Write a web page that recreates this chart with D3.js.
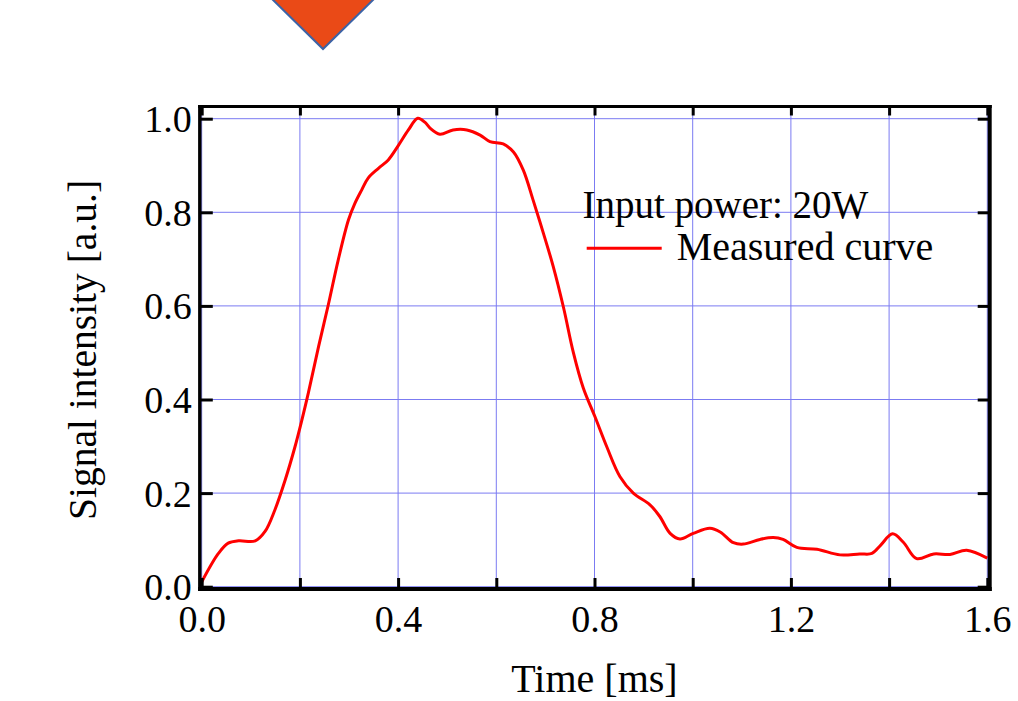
<!DOCTYPE html>
<html>
<head>
<meta charset="utf-8">
<script src="https://cdn.jsdelivr.net/npm/d3@7"></script>
<style>
  html, body { margin: 0; padding: 0; background: #ffffff; }
  svg { display: block; }
</style>
</head>
<body>
<svg id="chart" width="1018" height="701"></svg>
<script>
// ---- data ----
const timeMs = [0.000, 0.034, 0.054, 0.075, 0.109, 0.129, 0.149, 0.170, 0.190, 0.204, 0.217, 0.238,
  0.258, 0.278, 0.299, 0.312, 0.326, 0.339, 0.360, 0.380, 0.400, 0.421, 0.440, 0.455, 0.465,
  0.485, 0.512, 0.540, 0.567, 0.587, 0.614, 0.635, 0.655, 0.675, 0.696, 0.716, 0.737, 0.757,
  0.777, 0.801, 0.825, 0.852, 0.879, 0.913, 0.933, 0.954, 0.974, 1.001, 1.035, 1.056, 1.083,
  1.103, 1.137, 1.164, 1.184, 1.212, 1.253, 1.300, 1.340, 1.365, 1.383, 1.407, 1.429, 1.456,
  1.491, 1.524, 1.558, 1.600];
const signal = [0.010, 0.071, 0.093, 0.098, 0.098, 0.118, 0.164, 0.228, 0.299, 0.356, 0.413, 0.513,
  0.603, 0.698, 0.784, 0.819, 0.848, 0.873, 0.894, 0.912, 0.942, 0.976, 1.001, 0.992, 0.980,
  0.967, 0.976, 0.976, 0.965, 0.951, 0.946, 0.929, 0.890, 0.826, 0.755, 0.684, 0.596, 0.500,
  0.425, 0.363, 0.299, 0.235, 0.200, 0.175, 0.150, 0.114, 0.102, 0.114, 0.125, 0.117, 0.094,
  0.091, 0.101, 0.105, 0.101, 0.084, 0.080, 0.068, 0.070, 0.071, 0.089, 0.113, 0.095, 0.060,
  0.070, 0.069, 0.078, 0.061];

const xTickValues = [0, 0.2, 0.4, 0.6, 0.8, 1.0, 1.2, 1.4, 1.6];
const xTickLabels = ["0.0", "", "0.4", "", "0.8", "", "1.2", "", "1.6"];
const yTickValues = [0, 0.2, 0.4, 0.6, 0.8, 1.0];
const yTickLabels = ["0.0", "0.2", "0.4", "0.6", "0.8", "1.0"];

const xTitle = "Time [ms]";
const yTitle = "Signal intensity [a.u.]";
const legendTitle = "Input power: 20W";
const seriesName = "Measured curve";

// ---- layout ----
const FONT = "'Liberation Serif', 'Times New Roman', serif";
const svg = d3.select("#chart");

const x = d3.scaleLinear().domain([0, 1.6]).range([201.7, 987.3]);
const y = d3.scaleLinear().domain([0, 1.0]).range([586.7, 118.7]);

const frame = { left: 199.8, right: 989.7, top: 106.5, bottom: 589 };

// decorative arrow shape at the top
svg.append("polygon")
  .attr("points", "271,-2 375,-2 323,49")
  .attr("fill", "#ea4a17")
  .attr("stroke", "#3c63a6")
  .attr("stroke-width", 2);

// grid
const grid = svg.append("g");
grid.selectAll("line.gx").data(xTickValues).join("line")
  .attr("x1", d => x(d)).attr("x2", d => x(d))
  .attr("y1", frame.top).attr("y2", frame.bottom)
  .attr("stroke", "#7b7bf2").attr("stroke-width", 1);
grid.selectAll("line.gy").data(yTickValues).join("line")
  .attr("y1", d => y(d)).attr("y2", d => y(d))
  .attr("x1", frame.left).attr("x2", frame.right)
  .attr("stroke", "#7b7bf2").attr("stroke-width", 1);

// curve
const line = d3.line()
  .x((d, i) => x(timeMs[i]))
  .y(d => y(d))
  .curve(d3.curveCatmullRom.alpha(0.5));
svg.append("path")
  .datum(signal)
  .attr("d", line)
  .attr("fill", "none")
  .attr("stroke", "#ff0000")
  .attr("stroke-width", 3)
  .attr("stroke-linejoin", "round");

// axes (inward ticks)
function styleAxis(g) {
  g.select(".domain").remove();
  g.selectAll(".tick line").attr("stroke", "#000").attr("stroke-width", 3);
  g.selectAll(".tick text").attr("fill", "#000").style("font-family", FONT).style("font-size", "38px");
}

const bottomAxis = svg.append("g")
  .attr("transform", `translate(0,${frame.bottom})`)
  .call(d3.axisBottom(x).tickValues(xTickValues).tickSizeInner(-11).tickSizeOuter(0)
    .tickPadding(16).tickFormat((d, i) => xTickLabels[i]));
styleAxis(bottomAxis);

const topAxis = svg.append("g")
  .attr("transform", `translate(0,${frame.top})`)
  .call(d3.axisTop(x).tickValues(xTickValues).tickSizeInner(-9).tickSizeOuter(0).tickFormat(""));
styleAxis(topAxis);

const leftAxis = svg.append("g")
  .attr("transform", `translate(${frame.left},0)`)
  .call(d3.axisLeft(y).tickValues(yTickValues).tickSizeInner(-13).tickSizeOuter(0)
    .tickPadding(8).tickFormat((d, i) => yTickLabels[i]));
styleAxis(leftAxis);
leftAxis.selectAll(".tick text").attr("dy", "0.34em");

const rightAxis = svg.append("g")
  .attr("transform", `translate(${frame.right},0)`)
  .call(d3.axisRight(y).tickValues(yTickValues).tickSizeInner(-12).tickSizeOuter(0).tickFormat(""));
styleAxis(rightAxis);

// frame
svg.append("line").attr("x1", frame.left).attr("x2", frame.left)
  .attr("y1", frame.top - 1.5).attr("y2", frame.bottom + 2)
  .attr("stroke", "#000").attr("stroke-width", 3.4);
svg.append("line").attr("x1", frame.left - 1.7).attr("x2", frame.right + 2)
  .attr("y1", frame.bottom).attr("y2", frame.bottom)
  .attr("stroke", "#000").attr("stroke-width", 4);
svg.append("line").attr("x1", frame.right).attr("x2", frame.right)
  .attr("y1", frame.top - 1.5).attr("y2", frame.bottom + 2)
  .attr("stroke", "#000").attr("stroke-width", 4);
svg.append("line").attr("x1", frame.left - 1.7).attr("x2", frame.right + 2)
  .attr("y1", frame.top).attr("y2", frame.top)
  .attr("stroke", "#000").attr("stroke-width", 3);

// axis titles
svg.append("text")
  .attr("x", (x(0) + x(1.6)) / 2).attr("y", 692)
  .attr("text-anchor", "middle")
  .style("font-family", FONT).style("font-size", "40px").attr("fill", "#000")
  .text(xTitle);
svg.append("text")
  .attr("transform", `translate(96,350) rotate(-90)`)
  .attr("text-anchor", "middle")
  .style("font-family", FONT).style("font-size", "39.5px").attr("fill", "#000")
  .text(yTitle);

// legend
svg.append("text")
  .attr("x", 582.5).attr("y", 217.7)
  .style("font-family", FONT).style("font-size", "39px").attr("fill", "#000")
  .text(legendTitle);
svg.append("line")
  .attr("x1", 586.7).attr("x2", 661.7).attr("y1", 248.3).attr("y2", 248.3)
  .attr("stroke", "#ff0000").attr("stroke-width", 3);
svg.append("text")
  .attr("x", 676.7).attr("y", 260)
  .style("font-family", FONT).style("font-size", "40px").attr("fill", "#000")
  .text(seriesName);
</script>
</body>
</html>
